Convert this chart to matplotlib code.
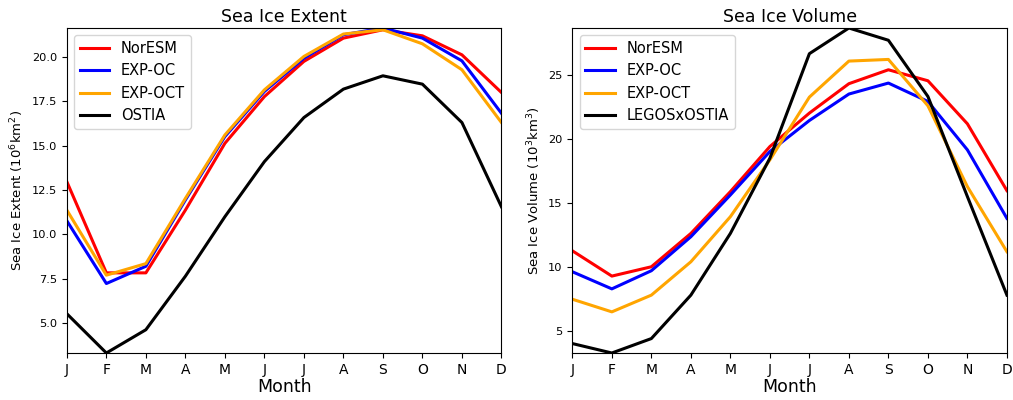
import numpy as np
import matplotlib
matplotlib.use("Agg")
import matplotlib.pyplot as plt

months = ['J', 'F', 'M', 'A', 'M', 'J', 'J', 'A', 'S', 'O', 'N', 'D']

# Sea ice extent (10^6 km^2)
ext_noresm = [12.97, 7.84, 7.84, 11.37, 15.13, 17.76, 19.74, 21.05, 21.52, 21.18, 20.11, 17.99]
ext_oc = [10.77, 7.24, 8.21, 11.94, 15.51, 18.05, 19.92, 21.24, 21.62, 21.05, 19.77, 16.82]
ext_oct = [11.37, 7.71, 8.36, 12.03, 15.60, 18.14, 20.02, 21.28, 21.52, 20.73, 19.27, 16.30]
ext_ostia = [5.54, 3.33, 4.64, 7.65, 11.00, 14.10, 16.58, 18.18, 18.93, 18.46, 16.30, 11.56]

# Sea ice volume (10^3 km^3)
vol_noresm = [11.27, 9.29, 10.02, 12.63, 15.90, 19.43, 22.05, 24.35, 25.44, 24.58, 21.21, 15.98]
vol_oc = [9.63, 8.29, 9.71, 12.37, 15.64, 19.04, 21.47, 23.54, 24.40, 22.96, 19.17, 13.81]
vol_oct = [7.48, 6.49, 7.80, 10.41, 13.94, 18.39, 23.30, 26.12, 26.25, 22.62, 16.29, 11.20]
vol_obs = [4.01, 3.27, 4.40, 7.80, 12.63, 18.52, 26.70, 28.71, 27.75, 23.35, 15.51, 7.80]

colors = ['red', 'blue', 'orange', 'black']
x = np.arange(12)

fig = plt.figure(figsize=(10.13, 4.0), dpi=100)
ax1 = fig.add_axes([0.066, 0.1175, 0.429, 0.8125])
ax2 = fig.add_axes([0.565, 0.1175, 0.429, 0.8125])


def panel(ax, series, labels, title, ylabel):
    for s, lab, c in zip(series, labels, colors):
        ax.plot(x, s, color=c, lw=2.2, label=lab)
    allv = np.concatenate([np.array(s) for s in series])
    ax.set_ylim(allv.min(), allv.max())
    ax.set_xlim(0, 11)
    ax.set_xticks(x)
    ax.set_xticklabels(months, fontsize=10)
    ax.tick_params(axis='y', labelsize=8.2)
    ax.set_title(title, fontsize=12.5, pad=4)
    ax.set_xlabel('Month', fontsize=12.5, labelpad=1)
    ax.set_ylabel(ylabel, fontsize=9.5)
    ax.legend(loc='upper left', fontsize=10.5)


panel(ax1, [ext_noresm, ext_oc, ext_oct, ext_ostia],
      ['NorESM', 'EXP-OC', 'EXP-OCT', 'OSTIA'],
      'Sea Ice Extent', r'Sea Ice Extent (10$^6$km$^2$)')
panel(ax2, [vol_noresm, vol_oc, vol_oct, vol_obs],
      ['NorESM', 'EXP-OC', 'EXP-OCT', 'LEGOSxOSTIA'],
      'Sea Ice Volume', r'Sea Ice Volume (10$^3$km$^3$)')

fig.savefig('out.png', dpi=100)
